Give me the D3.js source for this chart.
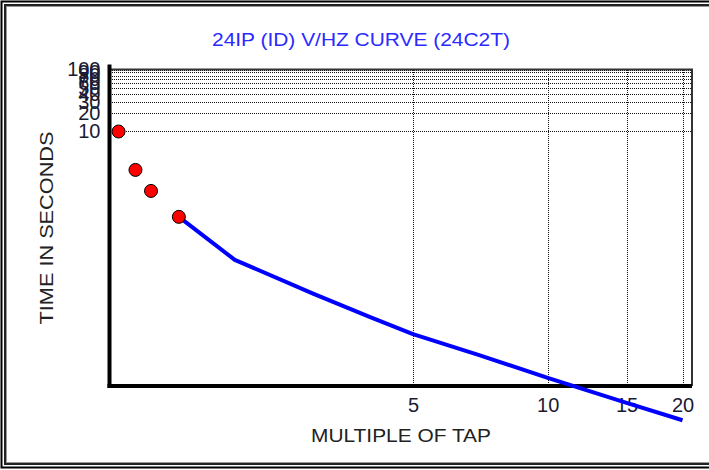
<!DOCTYPE html>
<html>
<head>
<meta charset="utf-8">
<script src="https://cdn.jsdelivr.net/npm/d3@7"></script>
<style>
  body { margin: 0; background: #fff; }
  svg text { font-family: "Liberation Sans", Arial, sans-serif; }
</style>
</head>
<body>
<div id="container"></div>
<script>
//Chart values
const dotTaps = [1.1, 1.2, 1.3, 1.5];
const dotTimes = [10, 2.4, 1.1, 0.42];
const curveTaps = [1.5, 2, 3, 4, 5, 7, 10, 15, 20];
const curveTimes = [0.42, 0.085, 0.024, 0.0102, 0.0054, 0.0025, 0.00106, 0.00042, 0.00022];
const xTicks = [5, 10, 15, 20];
const yTicks = [10, 20, 30, 40, 50, 60, 70, 80, 90, 100];

const width = 709;
const height = 470;

//Plot area
const plot = { left: 109.5, right: 692, top: 69.5, bottom: 386 };

const svg = d3.select('#container').append('svg')
    .attr('width', width)
    .attr('height', height);

//Double frame
svg.append('rect')
    .attr('x', 1.5).attr('y', 1.5)
    .attr('width', 715).attr('height', 466)
    .attr('fill', 'none').attr('stroke', '#000').attr('stroke-width', 2);
svg.append('rect')
    .attr('x', 5).attr('y', 5)
    .attr('width', 715).attr('height', 459)
    .attr('fill', 'none').attr('stroke', '#222').attr('stroke-width', 2);
svg.append('rect')
    .attr('x', 6.5).attr('y', 6.5)
    .attr('width', 715).attr('height', 456)
    .attr('fill', 'none').attr('stroke', '#999').attr('stroke-width', 1);

//Scales
const xScale = d3.scaleLog()
    .domain([1.05, 21])
    .range([plot.left, plot.right]);

const yScale = d3.scaleLog()
    .domain([0.000785, 100])
    .range([plot.bottom, plot.top]);

//Horizontal grid (dotted)
svg.append('g')
    .selectAll('line')
    .data(yTicks)
    .enter()
    .append('line')
    .attr('x1', plot.left)
    .attr('x2', plot.right)
    .attr('y1', d => Math.round(yScale(d)) + 0.5)
    .attr('y2', d => Math.round(yScale(d)) + 0.5)
    .attr('stroke', '#111')
    .attr('stroke-dasharray', '1,1')
    .attr('shape-rendering', 'crispEdges');

//Vertical grid (dotted)
svg.append('g')
    .selectAll('line')
    .data(xTicks)
    .enter()
    .append('line')
    .attr('x1', d => Math.round(xScale(d)) + 0.5)
    .attr('x2', d => Math.round(xScale(d)) + 0.5)
    .attr('y1', plot.top)
    .attr('y2', plot.bottom)
    .attr('stroke', '#111')
    .attr('stroke-dasharray', '1,1')
    .attr('shape-rendering', 'crispEdges');

//Plot border (top/right)
svg.append('path')
    .attr('d', `M${plot.left},${plot.top}H${plot.right}V${plot.bottom}`)
    .attr('fill', 'none')
    .attr('stroke', '#333')
    .attr('stroke-width', 2);

//Y-Axis labels
const yAxis = svg.append('g')
    .attr('transform', 'translate(' + (plot.left - 9) + ',0)')
    .call(d3.axisLeft(yScale).tickValues(yTicks).tickFormat(d3.format('d')).tickSize(0).tickPadding(0));
yAxis.select('.domain').remove();
yAxis.selectAll('text')
    .attr('font-size', 20)
    .attr('font-family', '"Liberation Sans", Arial, sans-serif')
    .attr('fill', '#1a1a33');

//X-Axis labels
const xAxis = svg.append('g')
    .attr('transform', 'translate(0,' + (plot.bottom + 12) + ')')
    .call(d3.axisBottom(xScale).tickValues(xTicks).tickFormat(d3.format('d')).tickSize(0).tickPadding(0));
xAxis.select('.domain').remove();
xAxis.selectAll('text')
    .attr('font-size', 20)
    .attr('font-family', '"Liberation Sans", Arial, sans-serif')
    .attr('fill', '#1a1a33');

//Axis lines
svg.append('line')
    .attr('x1', plot.left).attr('x2', plot.left)
    .attr('y1', plot.top - 5).attr('y2', plot.bottom + 2)
    .attr('stroke', '#000').attr('stroke-width', 4);
svg.append('line')
    .attr('x1', plot.left - 2).attr('x2', plot.right)
    .attr('y1', plot.bottom).attr('y2', plot.bottom)
    .attr('stroke', '#000').attr('stroke-width', 4);

//Curve
const line = d3.line()
    .x((d, i) => xScale(curveTaps[i]))
    .y(d => yScale(d));

svg.append('path')
    .datum(curveTimes)
    .attr('d', line)
    .attr('fill', 'none')
    .attr('stroke', '#0000ff')
    .attr('stroke-width', 4)
    .attr('stroke-linejoin', 'round');

//Dots
svg.selectAll('circle')
    .data(dotTimes)
    .enter()
    .append('circle')
    .attr('cx', (d, i) => xScale(dotTaps[i]))
    .attr('cy', d => yScale(d))
    .attr('r', 6.5)
    .attr('fill', '#ff0000')
    .attr('stroke', '#000')
    .attr('stroke-width', 1);

//Title
svg.append('text')
    .attr('x', 361)
    .attr('y', 46)
    .attr('text-anchor', 'middle')
    .attr('font-size', 19)
    .attr('fill', '#2a2aff')
    .attr('textLength', 298)
    .attr('lengthAdjust', 'spacingAndGlyphs')
    .text('24IP (ID) V/HZ CURVE (24C2T)');

//Legends X-Axis
svg.append('text')
    .attr('x', 401)
    .attr('y', 442)
    .attr('text-anchor', 'middle')
    .attr('font-size', 19)
    .attr('fill', '#222')
    .attr('textLength', 180)
    .attr('lengthAdjust', 'spacingAndGlyphs')
    .text('MULTIPLE OF TAP');

//Legends Y-Axis
svg.append('text')
    .attr('transform', 'rotate(-90)')
    .attr('x', -228)
    .attr('y', 53)
    .attr('text-anchor', 'middle')
    .attr('font-size', 19)
    .attr('fill', '#222')
    .attr('textLength', 193)
    .attr('lengthAdjust', 'spacingAndGlyphs')
    .text('TIME IN SECONDS');
</script>
</body>
</html>
